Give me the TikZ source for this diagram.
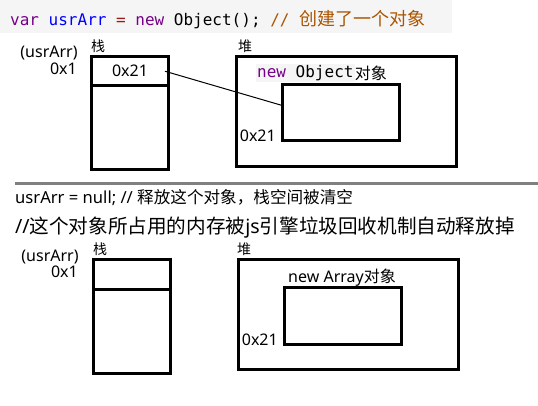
\documentclass[tikz,border=0pt]{standalone}
\usepackage{fontspec}
\setmainfont{Noto Sans}
\newfontfamily\codefont{DejaVu Sans Mono}
\newfontfamily\cjkfont{Noto Sans CJK SC}
\newcommand\cjktext[1]{{\cjkfont #1}}
\usetikzlibrary{positioning}
\definecolor{kw}{HTML}{770088}
\definecolor{vr}{HTML}{0000FF}
\definecolor{op}{HTML}{981A1A}
\definecolor{cm}{HTML}{AA5500}
\definecolor{codebg}{HTML}{F5F5F5}
\definecolor{rulegray}{HTML}{808080}
\begin{document}
\begin{tikzpicture}[x=1pt,y=-1pt,
    box/.style={draw,line width=3pt,inner sep=0pt},
    lbl/.style={inner sep=0pt,font=\fontsize{16}{18}\selectfont},
    hanzi/.style={inner sep=0pt,font=\cjkfont\fontsize{14}{16}\selectfont}]
\useasboundingbox (0,0) rectangle (538,406);
\fill[codebg] (0,0) rectangle (452,33);
\node[anchor=base west,inner sep=0pt,font=\codefont\fontsize{16}{18}\selectfont] (code) at (10,26) {\textcolor{kw}{var} \textcolor{vr}{usrArr} \textcolor{op}{=} \textcolor{kw}{new} Object(); \textcolor{cm}{// {\cjkfont\fontsize{18}{20}\selectfont 创建了一个对象}}};
\node[box,minimum width=77,minimum height=113.5] (stack1) at (130,113.25) {};
\node[box,lbl,minimum width=77,minimum height=29.5] (slot1) at (130,71.25) {0x21};
\node[box,minimum width=220,minimum height=110] (heap1) at (346.5,111.5) {};
\node[box,minimum width=117,minimum height=56] (obj1) at (341,112.5) {};
\draw (49,53) node[lbl] (var1) {(usrArr)} (77,69) node[lbl,anchor=east] (addr1) {0x1};
\node[hanzi,above right=2pt and 1pt of stack1.north west] (zhan1) {栈};
\node[hanzi,above right=2pt and 3pt of heap1.north west] (dui1) {堆};
\node[lbl,anchor=west,fill=codebg,inner sep=1pt] (new1) at (256,73) {\codefont\fontsize{16}{18}\selectfont\textcolor{kw}{new} Object};
\node[lbl,right=0pt of new1] (obj1txt) {\cjktext{对象}};
\node[lbl,left=5pt of obj1.south west,anchor=south east] (addr21a) {0x21};
\draw[line width=1pt] ([xshift=-5pt]slot1.east) -- (obj1.173);
\draw[rulegray,line width=3pt] (15,184) coordinate (rulel) -- (538,184) coordinate (ruler);
\node[anchor=west,inner sep=0pt,font=\fontsize{16.6}{18}\selectfont] (nullline) at (15,198) {usrArr = null; // \cjktext{释放这个对象，栈空间被清空}};
\node[anchor=west,inner sep=0pt,font=\fontsize{19.6}{22}\selectfont] (gcline) at (15,228) {//\cjktext{这个对象所占用的内存被}js\cjktext{引擎垃圾回收机制自动释放掉}};
\node[box,minimum width=77,minimum height=114] (stack2) at (132,316.5) {};
\node[box,minimum width=77,minimum height=29.5] (slot2) at (132,274.25) {};
\node[box,minimum width=220,minimum height=110] (heap2) at (348.5,314.5) {};
\node[box,minimum width=117,minimum height=57] (obj2) at (343,316) {};
\draw (50,257) node[lbl] (var2) {(usrArr)} (78,272) node[lbl,anchor=east] (addr2) {0x1};
\node[hanzi,above right=2pt and 1pt of stack2.north west] (zhan2) {栈};
\node[hanzi,above right=2pt and 0pt of heap2.north west] (dui2) {堆};
\node[lbl] (new2) at (342,278) {new Array\cjktext{对象}};
\node[lbl,left=5pt of obj2.south west,anchor=south east] (addr21b) {0x21};
\end{tikzpicture}
\end{document}
